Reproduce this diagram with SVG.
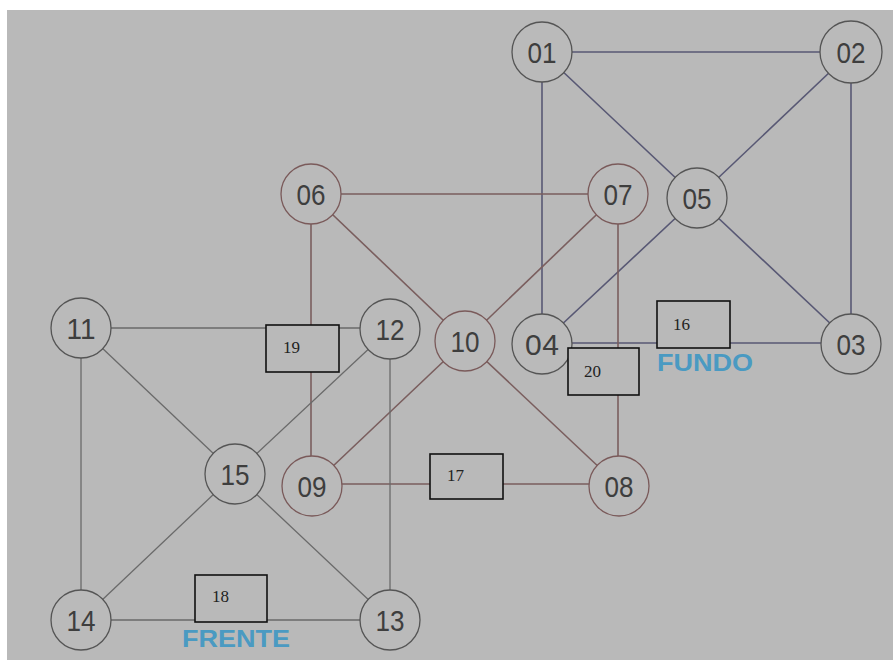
<svg xmlns="http://www.w3.org/2000/svg" width="893" height="660" viewBox="0 0 893 660">
<style>
.bg{fill:#b9b9b9}
.node circle{fill:#bababa;stroke:#555;stroke-width:1.3}
.node.r circle{stroke:#7a5a5a}
.node text{font-family:"Liberation Sans",Arial,sans-serif;font-size:30px;fill:#3e3e3e;text-anchor:middle}
.box rect{fill:#b9b9b9;stroke:#111;stroke-width:1.6}
.box text{font-family:"Liberation Serif","Times New Roman",serif;font-size:17px;fill:#222}
.b{stroke:#585874;stroke-width:1.6}
.rd{stroke:#7a5e5e;stroke-width:1.6}
.g{stroke:#6a6a6a;stroke-width:1.3}
.lbl{font-family:"Liberation Sans",Arial,sans-serif;font-weight:bold;font-size:23px;fill:#4a9ac2}
</style>
<rect x="0" y="0" width="893" height="660" fill="#ffffff"/>
<rect class="bg" x="7" y="10" width="886" height="650"/>
<g id="connectors" fill="none">
<line class="b" x1="542" y1="52" x2="851" y2="52"/>
<line class="b" x1="542" y1="52" x2="542" y2="343"/>
<line class="b" x1="542" y1="52" x2="697" y2="198"/>
<line class="b" x1="851" y1="52" x2="697" y2="198"/>
<line class="b" x1="851" y1="52" x2="851" y2="343"/>
<line class="b" x1="697" y1="198" x2="542" y2="343"/>
<line class="b" x1="697" y1="198" x2="851" y2="343"/>
<line class="b" x1="542" y1="343" x2="851" y2="343"/>
<line class="rd" x1="311" y1="194" x2="618" y2="194"/>
<line class="rd" x1="311" y1="194" x2="311" y2="486"/>
<line class="rd" x1="311" y1="194" x2="465" y2="341"/>
<line class="rd" x1="618" y1="194" x2="465" y2="341"/>
<line class="rd" x1="618" y1="194" x2="618" y2="486"/>
<line class="rd" x1="465" y1="341" x2="312" y2="486"/>
<line class="rd" x1="465" y1="341" x2="619" y2="486"/>
<line class="rd" x1="312" y1="484" x2="619" y2="484"/>
<line class="g" x1="81" y1="328" x2="390" y2="328"/>
<line class="g" x1="81" y1="328" x2="81" y2="620"/>
<line class="g" x1="81" y1="328" x2="235" y2="474"/>
<line class="g" x1="390" y1="329" x2="235" y2="474"/>
<line class="g" x1="390" y1="329" x2="390" y2="620"/>
<line class="g" x1="235" y1="474" x2="81" y2="620"/>
<line class="g" x1="235" y1="474" x2="390" y2="620"/>
<line class="g" x1="81" y1="620" x2="390" y2="620"/>
</g>
<g id="n01" class="node"><circle cx="542" cy="52" r="30"/><text x="542" y="63" textLength="29" lengthAdjust="spacingAndGlyphs">01</text></g>
<g id="n02" class="node"><circle cx="851" cy="52" r="31"/><text x="851" y="63" textLength="29" lengthAdjust="spacingAndGlyphs">02</text></g>
<g id="n03" class="node"><circle cx="851" cy="344" r="30"/><text x="851" y="355" textLength="29" lengthAdjust="spacingAndGlyphs">03</text></g>
<g id="n04" class="node"><circle cx="542" cy="344" r="30"/><text x="542" y="355" textLength="34" lengthAdjust="spacing">04</text></g>
<g id="n05" class="node"><circle cx="697" cy="198" r="30"/><text x="697" y="209" textLength="29" lengthAdjust="spacingAndGlyphs">05</text></g>
<g id="n06" class="node r"><circle cx="311" cy="194" r="30"/><text x="311" y="205" textLength="29" lengthAdjust="spacingAndGlyphs">06</text></g>
<g id="n07" class="node r"><circle cx="618" cy="194" r="30"/><text x="618" y="205" textLength="29" lengthAdjust="spacingAndGlyphs">07</text></g>
<g id="n08" class="node r"><circle cx="619" cy="486" r="30"/><text x="619" y="497" textLength="29" lengthAdjust="spacingAndGlyphs">08</text></g>
<g id="n09" class="node r"><circle cx="312" cy="486" r="30"/><text x="312" y="497" textLength="29" lengthAdjust="spacingAndGlyphs">09</text></g>
<g id="n10" class="node r"><circle cx="465" cy="341" r="30"/><text x="465" y="352" textLength="29" lengthAdjust="spacingAndGlyphs">10</text></g>
<g id="n11" class="node"><circle cx="81" cy="328" r="30"/><text x="81" y="339" textLength="29" lengthAdjust="spacingAndGlyphs">11</text></g>
<g id="n12" class="node"><circle cx="390" cy="329" r="30"/><text x="390" y="340" textLength="29" lengthAdjust="spacingAndGlyphs">12</text></g>
<g id="n13" class="node"><circle cx="390" cy="620" r="30"/><text x="390" y="631" textLength="29" lengthAdjust="spacingAndGlyphs">13</text></g>
<g id="n14" class="node"><circle cx="81" cy="620" r="30"/><text x="81" y="631" textLength="29" lengthAdjust="spacingAndGlyphs">14</text></g>
<g id="n15" class="node"><circle cx="235" cy="474" r="30"/><text x="235" y="485" textLength="29" lengthAdjust="spacingAndGlyphs">15</text></g>
<g id="b16" class="box"><rect x="657" y="301" width="73" height="47"/><text x="673" y="330">16</text></g>
<g id="b17" class="box"><rect x="430" y="454" width="73" height="45"/><text x="447" y="481">17</text></g>
<g id="b18" class="box"><rect x="195" y="575" width="72" height="47"/><text x="212" y="602">18</text></g>
<g id="b19" class="box"><rect x="266" y="325" width="73" height="47"/><text x="283" y="353">19</text></g>
<g id="b20" class="box"><rect x="568" y="348" width="71" height="47"/><text x="584" y="377">20</text></g>
<text class="lbl" x="657" y="371" textLength="96" lengthAdjust="spacingAndGlyphs">FUNDO</text>
<text class="lbl" x="182" y="647" textLength="108" lengthAdjust="spacingAndGlyphs">FRENTE</text>
</svg>
